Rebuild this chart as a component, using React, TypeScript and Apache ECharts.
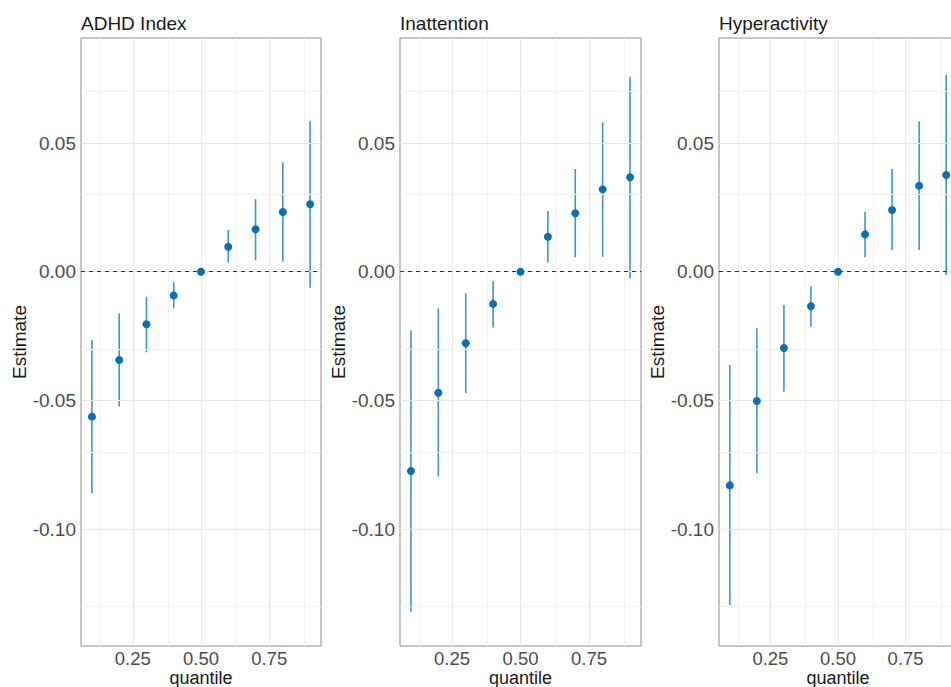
import React, { useEffect, useRef } from "react";
import * as echarts from "echarts";

const quantiles = [0.1, 0.2, 0.3, 0.4, 0.5, 0.6, 0.7, 0.8, 0.9];
const panelTitles = ["ADHD Index", "Inattention", "Hyperactivity"];

const adhdEst = [-0.0563, -0.0343, -0.0204, -0.0092, 0, 0.0097, 0.0165, 0.0232, 0.0262];
const adhdLo = [-0.0861, -0.0524, -0.0313, -0.0142, 0, 0.0036, 0.0045, 0.0039, -0.0062];
const adhdHi = [-0.0265, -0.0162, -0.0097, -0.0041, 0, 0.0162, 0.0282, 0.0425, 0.0585];

const inatEst = [-0.0774, -0.047, -0.0278, -0.0125, 0, 0.0136, 0.0227, 0.032, 0.0367];
const inatLo = [-0.1321, -0.0796, -0.0472, -0.0217, 0, 0.0036, 0.0056, 0.0058, -0.0026];
const inatHi = [-0.0227, -0.0142, -0.0084, -0.0035, 0, 0.0236, 0.0399, 0.058, 0.0757];

const hypEst = [-0.083, -0.0502, -0.0296, -0.0134, 0, 0.0145, 0.024, 0.0334, 0.0376];
const hypLo = [-0.1295, -0.0783, -0.0466, -0.0214, 0, 0.0056, 0.0084, 0.0084, -0.0013];
const hypHi = [-0.0362, -0.022, -0.0129, -0.0056, 0, 0.0233, 0.0399, 0.0585, 0.0764];

const yTicks = [-0.1, -0.05, 0, 0.05];
const yMinorTicks = [-0.125, -0.075, -0.025, 0.025, 0.075];
const xTicks = [0.25, 0.5, 0.75];
const xMinorTicks = [0.125, 0.375, 0.625, 0.875];

const Y_MIN = -0.1454;
const Y_MAX = 0.0908;
const X_MIN = 0.06;
const X_MAX = 0.94;

const panels = [
  { est: adhdEst, lo: adhdLo, hi: adhdHi },
  { est: inatEst, lo: inatLo, hi: inatHi },
  { est: hypEst, lo: hypLo, hi: hypHi },
];

const gridLefts = [81, 400, 719];
const gridWidths = [240, 241, 238];
const GRID_TOP = 38;
const GRID_H = 608;

const FONT = "'Liberation Sans', Arial, Helvetica, sans-serif";
const POINT_COLOR = "#0a6fb3";
const BAR_COLOR = "#3a98cf";

export default function App() {
  const ref = useRef<HTMLDivElement>(null);

  useEffect(() => {
    if (!ref.current) return;
    const chart = echarts.init(ref.current, undefined, { renderer: "svg" });

    const grid: any[] = [];
    const xAxis: any[] = [];
    const yAxis: any[] = [];
    const series: any[] = [];
    const graphic: any[] = [];

    panels.forEach((p, i) => {
      grid.push({
        left: gridLefts[i],
        top: GRID_TOP,
        width: gridWidths[i],
        height: GRID_H,
        show: true,
        backgroundColor: "#ffffff",
        borderColor: "#8c8c8c",
        borderWidth: 1,
        containLabel: false,
      });
      xAxis.push({
        type: "value",
        gridIndex: i,
        min: X_MIN,
        max: X_MAX,
        axisLine: { show: false },
        axisTick: { show: false },
        splitLine: { show: false },
        axisLabel: {
          customValues: xTicks,
          formatter: (v: number) => v.toFixed(2),
          color: "#4d4d4d",
          fontSize: 18.5,
          lineHeight: 18,
          fontFamily: FONT,
          margin: 3,
        },
      });
      yAxis.push({
        type: "value",
        gridIndex: i,
        min: Y_MIN,
        max: Y_MAX,
        axisLine: { show: false },
        axisTick: { show: false },
        splitLine: { show: false },
        axisLabel: {
          customValues: yTicks,
          formatter: (v: number) => v.toFixed(2),
          color: "#4d4d4d",
          fontSize: 19,
          fontFamily: FONT,
          margin: 5,
        },
      });

      series.push({
        type: "scatter",
        xAxisIndex: i,
        yAxisIndex: i,
        data: [],
        silent: true,
        z: 1,
        markLine: {
          silent: true,
          symbol: "none",
          label: { show: false },
          lineStyle: { color: "#f3f3f3", width: 1, type: "solid" },
          data: [
            ...yMinorTicks.map((v) => ({ yAxis: v })),
            ...xMinorTicks.map((v) => ({ xAxis: v })),
          ],
        },
      });
      series.push({
        type: "scatter",
        xAxisIndex: i,
        yAxisIndex: i,
        data: [],
        silent: true,
        z: 2,
        markLine: {
          silent: true,
          symbol: "none",
          label: { show: false },
          lineStyle: { color: "#e9e9e9", width: 1.2, type: "solid" },
          data: [
            ...yTicks.map((v) => ({ yAxis: v })),
            ...xTicks.map((v) => ({ xAxis: v })),
          ],
        },
      });
      series.push({
        type: "scatter",
        xAxisIndex: i,
        yAxisIndex: i,
        data: [],
        silent: true,
        z: 3,
        markLine: {
          silent: true,
          symbol: "none",
          label: { show: false },
          lineStyle: { color: "#333333", width: 1.2, type: [4, 4] },
          data: [{ yAxis: 0 }],
        },
      });
      series.push({
        type: "custom",
        xAxisIndex: i,
        yAxisIndex: i,
        z: 4,
        data: quantiles.map((q, k) => [q, p.lo[k], p.hi[k]]),
        encode: { x: 0, y: [1, 2] },
        renderItem: (params: any, api: any) => {
          const x = api.value(0);
          const a = api.coord([x, api.value(1)]);
          const b = api.coord([x, api.value(2)]);
          return {
            type: "line",
            shape: { x1: a[0], y1: a[1], x2: b[0], y2: b[1] },
            style: { stroke: BAR_COLOR, lineWidth: 1.6 },
          };
        },
      });
      series.push({
        type: "scatter",
        xAxisIndex: i,
        yAxisIndex: i,
        z: 5,
        symbol: "circle",
        symbolSize: 8,
        itemStyle: { color: POINT_COLOR, opacity: 1 },
        data: quantiles.map((q, k) => [q, p.est[k]]),
      });

      const left = gridLefts[i];
      const cx = left + gridWidths[i] / 2;
      graphic.push({
        type: "text",
        x: left,
        y: 23,
        style: {
          text: panelTitles[i],
          fontSize: 19,
          fontFamily: FONT,
          fill: "#1a1a1a",
          align: "left",
          verticalAlign: "middle",
        },
      });
      graphic.push({
        type: "text",
        x: cx,
        y: 678,
        style: {
          text: "quantile",
          fontSize: 18,
          lineHeight: 18,
          fontFamily: FONT,
          fill: "#1a1a1a",
          align: "center",
          verticalAlign: "middle",
        },
      });
      graphic.push({
        type: "text",
        x: left - 62,
        y: GRID_TOP + GRID_H / 2,
        rotation: Math.PI / 2,
        style: {
          text: "Estimate",
          fontSize: 19,
          fontFamily: FONT,
          fill: "#1a1a1a",
          align: "center",
          verticalAlign: "middle",
        },
      });
    });

    chart.setOption({
      animation: false,
      backgroundColor: "#ffffff",
      grid,
      xAxis,
      yAxis,
      series,
      graphic,
    });

    return () => chart.dispose();
  }, []);

  return (
    <div
      style={{
        position: "fixed",
        left: 0,
        top: 0,
        width: 951,
        height: 687,
        overflow: "hidden",
      }}
    >
      <div ref={ref} style={{ width: 968, height: 687 }} />
    </div>
  );
}
